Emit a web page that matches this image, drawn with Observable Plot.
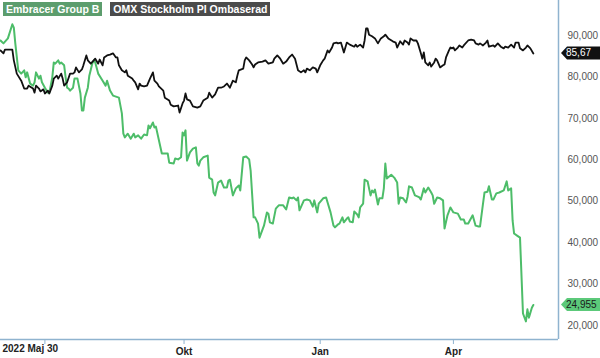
<!DOCTYPE html>
<html>
<head>
<meta charset="utf-8">
<script src="https://cdn.jsdelivr.net/npm/d3@7"></script>
<script src="https://cdn.jsdelivr.net/npm/@observablehq/plot@0.6"></script>
<style>
  html, body { margin: 0; padding: 0; background: #fff; }
  #wrap { position: relative; width: 600px; height: 358px; font-family: "Liberation Sans", Arial, sans-serif; }
  #legend { position: absolute; left: 3px; top: 2px; display: flex; gap: 8px; }
  #legend span { display: inline-block; color: #fff; font-weight: bold; font-size: 10.5px; line-height: 14px; padding: 0 3px; }
  svg { display: block; }
</style>
</head>
<body>
<div id="wrap"><div id="legend"></div></div>
<script>
// Series names
const seriesNames = ["Embracer Group B", "OMX Stockholm PI Ombaserad"];
const seriesColors = ["#4dbd69", "#111111"];
const legendColors = ["#5c9d6d", "#4b4b4b"];

// Embracer Group B (SEK) [date, close]
const embracer = [
["2022-05-30",88.8],["2022-06-01",88.1],["2022-06-04",89.3],["2022-06-07",92.7],["2022-06-08",91.9],["2022-06-09",88.1],
["2022-06-11",81.6],["2022-06-13",80.8],["2022-06-15",81.6],["2022-06-16",79.9],["2022-06-17",81.1],["2022-06-19",78.4],
["2022-06-21",77.9],["2022-06-22",78.7],["2022-06-23",81.1],["2022-06-25",79.6],["2022-06-26",80.3],["2022-06-27",78.7],
["2022-06-29",77.4],["2022-07-01",76.2],["2022-07-02",76.2],["2022-07-04",79.9],["2022-07-05",83.5],["2022-07-06",83.2],
["2022-07-08",84.0],["2022-07-09",83.2],["2022-07-10",83.5],["2022-07-12",82.8],["2022-07-13",79.9],["2022-07-14",77.4],
["2022-07-15",77.2],["2022-07-16",76.7],["2022-07-18",77.4],["2022-07-19",79.6],["2022-07-21",79.6],["2022-07-23",76.0],
["2022-07-24",71.9],["2022-07-25",71.9],["2022-07-26",75.0],["2022-07-28",77.4],["2022-07-29",80.3],["2022-07-31",83.2],
["2022-08-01",84.0],["2022-08-02",83.5],["2022-08-04",80.8],["2022-08-07",79.1],["2022-08-09",77.9],["2022-08-10",79.1],
["2022-08-12",76.7],["2022-08-14",75.5],["2022-08-18",75.0],["2022-08-20",71.2],["2022-08-21",66.3],["2022-08-22",65.4],
["2022-08-24",66.3],["2022-08-26",65.1],["2022-08-28",66.3],["2022-08-29",65.4],["2022-08-31",65.9],["2022-09-02",65.1],
["2022-09-04",66.1],["2022-09-06",65.9],["2022-09-07",68.3],["2022-09-08",67.6],["2022-09-10",69.0],["2022-09-11",67.8],
["2022-09-12",68.0],["2022-09-16",61.5],["2022-09-20",61.5],["2022-09-21",59.3],["2022-09-24",59.1],["2022-09-25",60.3],
["2022-09-27",60.1],["2022-09-29",60.6],["2022-09-30",66.6],["2022-10-01",65.9],["2022-10-02",67.1],["2022-10-03",59.8],
["2022-10-05",61.8],["2022-10-07",62.7],["2022-10-09",63.0],["2022-10-10",59.1],["2022-10-11",58.6],["2022-10-12",59.8],
["2022-10-14",60.6],["2022-10-17",61.0],["2022-10-18",55.7],["2022-10-20",55.2],["2022-10-21",52.1],["2022-10-22",51.4],
["2022-10-24",54.5],["2022-10-26",55.0],["2022-10-28",53.3],["2022-10-30",53.3],["2022-10-31",55.0],["2022-11-01",55.2],
["2022-11-03",51.4],["2022-11-05",53.1],["2022-11-07",53.8],["2022-11-08",52.6],["2022-11-10",60.6],["2022-11-12",60.8],
["2022-11-14",60.1],["2022-11-15",57.4],["2022-11-17",46.1],["2022-11-18",46.1],["2022-11-20",44.6],["2022-11-21",41.2],
["2022-11-24",44.1],["2022-11-26",47.3],["2022-11-27",47.0],["2022-11-28",44.9],["2022-11-30",44.6],["2022-12-02",48.2],
["2022-12-04",49.0],["2022-12-07",49.0],["2022-12-09",48.0],["2022-12-11",50.9],["2022-12-13",50.7],["2022-12-14",50.9],
["2022-12-16",50.2],["2022-12-17",50.9],["2022-12-18",47.8],["2022-12-21",50.2],["2022-12-23",50.4],["2022-12-25",50.2],
["2022-12-27",48.7],["2022-12-28",50.2],["2022-12-30",47.3],["2022-12-31",49.4],["2023-01-03",50.7],["2023-01-05",50.9],
["2023-01-06",49.7],["2023-01-08",47.3],["2023-01-10",44.1],["2023-01-11",43.7],["2023-01-13",44.4],["2023-01-14",44.6],
["2023-01-16",46.1],["2023-01-17",44.9],["2023-01-19",45.8],["2023-01-20",46.1],["2023-01-21",45.1],["2023-01-23",44.9],
["2023-01-24",47.5],["2023-01-26",46.8],["2023-01-27",46.1],["2023-01-28",48.5],["2023-01-30",49.4],["2023-01-31",55.2],
["2023-02-02",54.8],["2023-02-04",51.4],["2023-02-05",52.6],["2023-02-06",52.1],["2023-02-07",52.8],["2023-02-09",49.2],
["2023-02-10",50.7],["2023-02-12",50.7],["2023-02-13",53.1],["2023-02-14",59.1],["2023-02-15",55.5],["2023-02-18",56.4],
["2023-02-20",55.7],["2023-02-22",54.5],["2023-02-23",49.4],["2023-02-24",50.9],["2023-02-26",50.7],["2023-02-28",49.7],
["2023-03-01",51.1],["2023-03-02",53.6],["2023-03-04",53.3],["2023-03-06",51.4],["2023-03-08",51.1],["2023-03-09",50.9],
["2023-03-10",50.4],["2023-03-12",53.1],["2023-03-13",52.1],["2023-03-15",53.3],["2023-03-17",52.1],["2023-03-18",51.4],
["2023-03-19",49.4],["2023-03-21",50.9],["2023-03-23",50.7],["2023-03-25",50.2],["2023-03-26",43.4],["2023-03-28",46.6],
["2023-03-30",48.5],["2023-04-01",47.3],["2023-04-04",47.0],["2023-04-06",45.6],["2023-04-08",45.6],["2023-04-09",44.6],
["2023-04-11",44.6],["2023-04-14",46.6],["2023-04-16",44.1],["2023-04-18",43.9],["2023-04-19",43.9],["2023-04-21",49.4],
["2023-04-22",52.1],["2023-04-24",52.3],["2023-04-25",53.6],["2023-04-27",50.4],["2023-04-28",50.4],["2023-04-30",51.9],
["2023-05-02",52.1],["2023-05-05",52.6],["2023-05-07",54.8],["2023-05-08",52.6],["2023-05-10",53.1],["2023-05-11",45.3],
["2023-05-12",42.2],["2023-05-14",41.7],["2023-05-16",41.2],["2023-05-18",22.9],["2023-05-20",21.0],["2023-05-21",23.9],
["2023-05-22",21.9],["2023-05-24",24.3],["2023-05-25",24.955]
];

// OMX Stockholm PI, rebased to Embracer's start [date, value]
const omx = [
["2022-05-30",86.4],["2022-06-01",85.7],["2022-06-02",86.6],["2022-06-07",86.6],["2022-06-08",84.0],["2022-06-10",80.8],
["2022-06-13",79.1],["2022-06-15",77.2],["2022-06-17",77.2],["2022-06-18",77.9],["2022-06-21",77.2],["2022-06-22",76.2],
["2022-06-23",77.9],["2022-06-25",77.2],["2022-06-26",76.5],["2022-06-28",77.0],["2022-06-29",76.0],["2022-07-01",76.7],
["2022-07-02",76.0],["2022-07-04",77.9],["2022-07-05",79.6],["2022-07-07",80.3],["2022-07-08",79.6],["2022-07-10",80.8],
["2022-07-11",79.6],["2022-07-12",77.9],["2022-07-14",78.7],["2022-07-16",80.8],["2022-07-18",80.8],["2022-07-19",81.1],
["2022-07-20",82.3],["2022-07-22",81.1],["2022-07-24",81.8],["2022-07-25",82.8],["2022-07-27",85.2],["2022-07-28",84.0],
["2022-07-30",83.2],["2022-08-01",84.0],["2022-08-02",84.4],["2022-08-04",83.2],["2022-08-05",84.2],["2022-08-07",82.8],
["2022-08-08",84.7],["2022-08-10",85.2],["2022-08-12",85.4],["2022-08-14",85.7],["2022-08-16",84.7],["2022-08-17",84.7],
["2022-08-18",82.8],["2022-08-20",81.6],["2022-08-22",81.1],["2022-08-23",81.6],["2022-08-24",80.3],["2022-08-27",79.6],
["2022-08-28",79.1],["2022-08-29",78.7],["2022-08-31",77.0],["2022-09-01",78.4],["2022-09-02",77.9],["2022-09-04",77.7],
["2022-09-06",77.9],["2022-09-08",79.6],["2022-09-10",81.1],["2022-09-11",79.1],["2022-09-13",78.4],["2022-09-14",77.7],
["2022-09-17",76.7],["2022-09-18",75.0],["2022-09-21",74.3],["2022-09-22",73.3],["2022-09-24",72.9],["2022-09-27",73.1],
["2022-09-28",71.4],["2022-09-30",73.6],["2022-10-01",74.3],["2022-10-02",76.0],["2022-10-03",74.6],["2022-10-05",74.3],
["2022-10-07",72.9],["2022-10-10",72.6],["2022-10-12",72.9],["2022-10-14",74.3],["2022-10-17",75.0],["2022-10-18",76.2],
["2022-10-20",75.0],["2022-10-22",75.8],["2022-10-24",77.4],["2022-10-26",77.4],["2022-10-28",77.7],["2022-10-30",78.4],
["2022-11-01",77.4],["2022-11-03",79.1],["2022-11-05",78.7],["2022-11-06",80.3],["2022-11-07",81.6],["2022-11-10",82.0],
["2022-11-11",84.0],["2022-11-12",84.7],["2022-11-14",84.0],["2022-11-16",83.0],["2022-11-17",82.3],["2022-11-18",83.0],
["2022-11-20",83.5],["2022-11-23",83.7],["2022-11-25",84.0],["2022-11-27",83.2],["2022-11-30",83.5],["2022-12-01",84.4],
["2022-12-03",85.2],["2022-12-05",84.4],["2022-12-07",83.2],["2022-12-09",83.7],["2022-12-11",84.7],["2022-12-13",85.4],
["2022-12-15",84.4],["2022-12-17",81.6],["2022-12-19",81.1],["2022-12-21",81.6],["2022-12-22",81.1],["2022-12-23",82.0],
["2022-12-25",81.6],["2022-12-27",82.3],["2022-12-29",82.0],["2022-12-30",81.1],["2023-01-01",82.8],["2023-01-03",84.0],
["2023-01-04",84.4],["2023-01-06",86.4],["2023-01-07",85.9],["2023-01-09",87.1],["2023-01-10",88.1],["2023-01-12",88.3],
["2023-01-13",88.1],["2023-01-15",88.3],["2023-01-17",85.9],["2023-01-18",87.1],["2023-01-19",88.3],["2023-01-21",87.8],
["2023-01-24",87.3],["2023-01-25",87.8],["2023-01-26",87.3],["2023-01-28",87.8],["2023-01-30",87.1],["2023-01-31",88.8],
["2023-02-01",91.7],["2023-02-02",91.7],["2023-02-03",90.2],["2023-02-05",89.8],["2023-02-07",89.3],["2023-02-09",88.1],
["2023-02-11",89.3],["2023-02-13",89.8],["2023-02-14",90.2],["2023-02-16",89.3],["2023-02-19",88.6],["2023-02-21",88.3],
["2023-02-22",87.1],["2023-02-24",88.6],["2023-02-26",87.8],["2023-02-27",88.8],["2023-03-01",88.3],["2023-03-02",87.8],
["2023-03-03",89.3],["2023-03-05",88.8],["2023-03-07",88.8],["2023-03-08",88.1],["2023-03-10",85.7],["2023-03-11",84.4],
["2023-03-12",85.9],["2023-03-13",83.5],["2023-03-15",82.8],["2023-03-16",83.5],["2023-03-17",82.5],["2023-03-19",83.5],
["2023-03-20",84.4],["2023-03-21",84.0],["2023-03-23",82.3],["2023-03-25",82.8],["2023-03-26",83.0],["2023-03-27",84.7],
["2023-03-29",86.4],["2023-03-30",87.1],["2023-03-31",86.9],["2023-04-01",87.1],["2023-04-02",86.4],["2023-04-04",87.1],
["2023-04-05",87.6],["2023-04-07",87.1],["2023-04-08",87.6],["2023-04-11",88.8],["2023-04-13",89.0],["2023-04-15",88.8],
["2023-04-16",88.1],["2023-04-18",87.8],["2023-04-19",88.1],["2023-04-21",87.6],["2023-04-23",88.3],["2023-04-24",88.8],
["2023-04-25",87.3],["2023-04-28",87.6],["2023-04-29",87.3],["2023-05-01",88.1],["2023-05-03",87.3],["2023-05-05",86.9],
["2023-05-06",87.3],["2023-05-08",87.1],["2023-05-10",87.8],["2023-05-12",87.1],["2023-05-13",88.3],["2023-05-15",88.3],
["2023-05-16",86.9],["2023-05-18",86.4],["2023-05-20",87.1],["2023-05-21",87.6],["2023-05-23",86.9],["2023-05-25",85.67]
];

// Axes
const xDomain = ["2022-05-30", "2023-06-11"];
const yDomain = [16.62, 98.45];
const xTickDates = ["2022-06-29", "2022-10-01", "2023-01-01", "2023-04-01"];
const xTickLabels = ["", "Okt", "Jan", "Apr"];
const startLabel = "2022 Maj 30";
const yTicks = [20, 30, 40, 50, 60, 70, 80, 90];

const parse = s => new Date(s + "T00:00:00Z");
const labelMap = new Map(xTickDates.map((d, i) => [+parse(d), xTickLabels[i]]));
const commaFmt = (v, n) => v.toFixed(n).replace(".", ",");
const axisColor = "#8fb3cf";

const chart = Plot.plot({
  width: 600,
  height: 358,
  marginLeft: 0,
  marginRight: 42,
  marginTop: 0,
  marginBottom: 19,
  style: { fontFamily: "'Liberation Sans', Arial, sans-serif", background: "#fff" },
  x: { type: "utc", domain: xDomain.map(parse) },
  y: { domain: yDomain },
  marks: [
    Plot.ruleY([yDomain[0]], { stroke: axisColor, strokeWidth: 1.5 }),
    Plot.ruleX([parse(xDomain[1])], { stroke: axisColor, strokeWidth: 1.5 }),
    Plot.axisX({
      ticks: xTickDates.map(parse),
      tickSize: 5,
      tickPadding: 3,
      tickFormat: d => labelMap.get(+d) ?? "",
      stroke: axisColor,
      fill: "#222",
      fontWeight: "bold",
      fontSize: 10,
      label: null
    }),
    Plot.text([startLabel], {
      x: () => parse(xDomain[0]),
      text: d => d,
      frameAnchor: "bottom",
      textAnchor: "start",
      dx: 2,
      dy: 12,
      fill: "#222",
      fontWeight: "bold",
      fontSize: 10
    }),
    Plot.axisY({
      anchor: "right",
      ticks: yTicks,
      tickSize: 0,
      tickPadding: 9,
      tickFormat: d => commaFmt(d, 3),
      fill: "#555",
      fontSize: 10,
      label: null
    }),
    Plot.line(embracer, { x: d => parse(d[0]), y: d => d[1], stroke: seriesColors[0], strokeWidth: 2 }),
    Plot.line(omx, { x: d => parse(d[0]), y: d => d[1], stroke: seriesColors[1], strokeWidth: 1.8 })
  ]
});

document.getElementById("wrap").appendChild(chart);

// End-value tags placed through the chart's own y scale
const yScale = chart.scale("y");
const svg = d3.select(chart);
const tags = [
  { v: omx[omx.length - 1][1], text: commaFmt(omx[omx.length - 1][1], 2), fill: "#111", color: "#fff" },
  { v: embracer[embracer.length - 1][1], text: commaFmt(embracer[embracer.length - 1][1], 3), fill: "#5cc97a", color: "#1a1a1a" }
];
for (const t of tags) {
  const yc = yScale.apply(t.v);
  const x0 = 561, h = 6.5;
  svg.append("path")
    .attr("d", `M${x0},${yc} L${x0 + 6},${yc - h} L600,${yc - h} L600,${yc + h} L${x0 + 6},${yc + h} Z`)
    .attr("fill", t.fill);
  svg.append("text")
    .attr("x", 566).attr("y", yc).attr("dy", "0.35em")
    .attr("text-anchor", "start")
    .attr("fill", t.color).attr("font-size", 10)
    .text(t.text);
}

// Legend
const legend = document.getElementById("legend");
seriesNames.forEach((n, i) => {
  const s = document.createElement("span");
  s.textContent = n;
  s.style.background = legendColors[i];
  legend.appendChild(s);
});
</script>
</body>
</html>
